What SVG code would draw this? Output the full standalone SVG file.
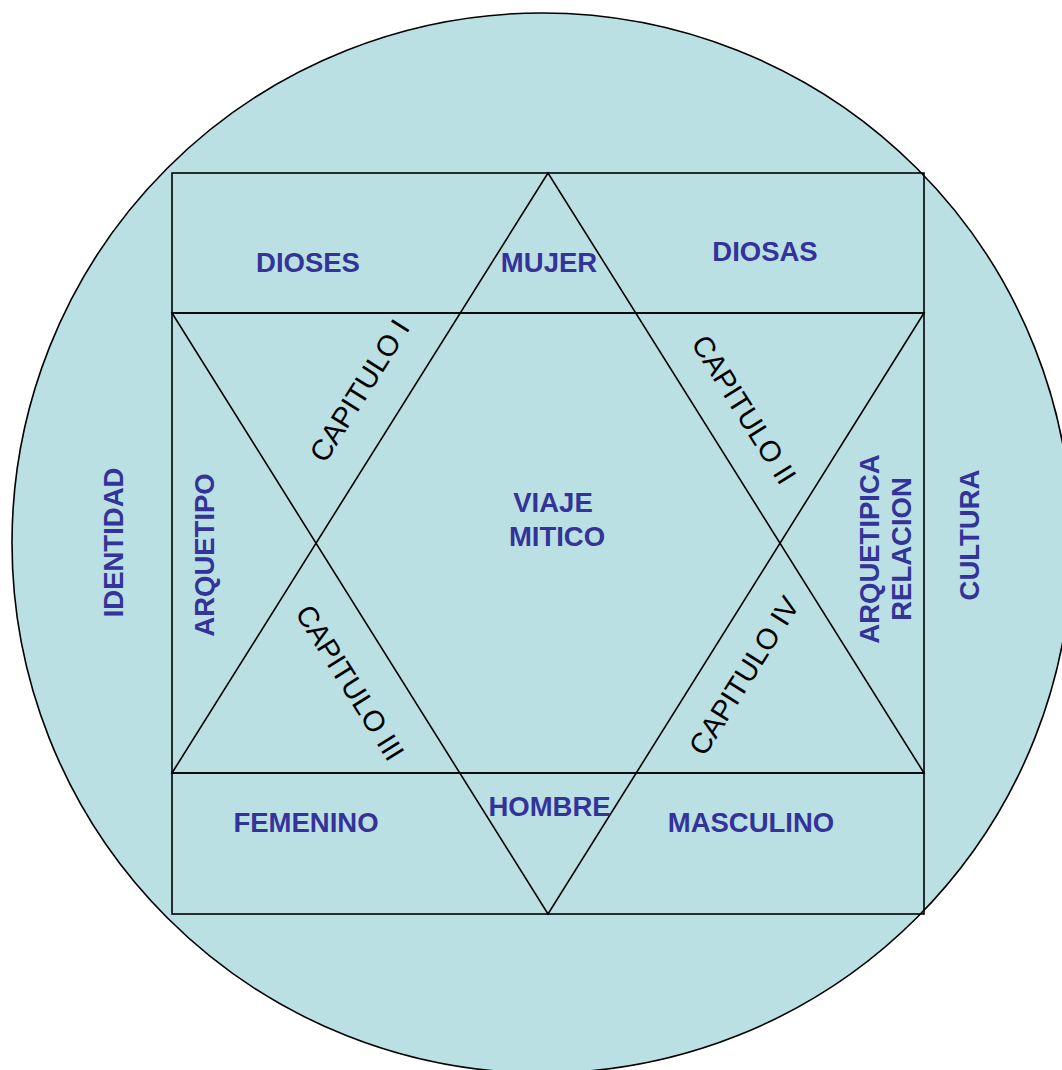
<svg xmlns="http://www.w3.org/2000/svg" width="1062" height="1070" viewBox="0 0 1062 1070">
<style>
.ln{fill:none;stroke:#000;stroke-width:1.6}
.b{font-family:"Liberation Sans",Arial,sans-serif;font-weight:bold;font-size:27.5px;fill:#333399;text-anchor:middle}
.c{font-family:"Liberation Sans",Arial,sans-serif;font-size:29px;fill:#000;text-anchor:middle}
</style>
<rect width="1062" height="1070" fill="#fff"/>
<g id="circle"><circle cx="542" cy="543" r="530" fill="#BBE0E3" stroke="#000" stroke-width="1.6"/></g>
<g id="connectors">
<rect class="ln" x="172" y="173" width="752" height="741"/>
<line class="ln" x1="172" y1="313" x2="924" y2="313"/>
<line class="ln" x1="172" y1="773" x2="924" y2="773"/>
<polygon class="ln" points="548,173 172,773 924,773"/>
<polygon class="ln" points="172,313 924,313 548,914"/>
</g>
<g id="dioses"><text class="b" x="308" y="272">DIOSES</text></g>
<g id="mujer"><text class="b" x="549" y="272">MUJER</text></g>
<g id="diosas"><text class="b" x="765" y="261">DIOSAS</text></g>
<g id="femenino"><text class="b" x="306" y="832">FEMENINO</text></g>
<g id="hombre"><text class="b" x="549.5" y="816">HOMBRE</text></g>
<g id="masculino"><text class="b" x="751" y="832">MASCULINO</text></g>
<g id="viaje"><text class="b" x="553" y="512">VIAJE</text><text class="b" x="557" y="546">MITICO</text></g>
<g id="identidad"><text class="b" transform="translate(123,542.5) rotate(-90)">IDENTIDAD</text></g>
<g id="arquetipo"><text class="b" transform="translate(214,555) rotate(-90)">ARQUETIPO</text></g>
<g id="cultura"><text class="b" transform="translate(979,535) rotate(-90)">CULTURA</text></g>
<g id="relacion"><text class="b" transform="translate(879,549) rotate(-90)">ARQUETIPICA</text><text class="b" transform="translate(911,549) rotate(-90)">RELACION</text></g>
<g id="cap1"><text class="c" transform="translate(368,396) rotate(-57.9)">CAPITULO I</text></g>
<g id="cap2"><text class="c" transform="translate(735.5,415) rotate(57.9)">CAPITULO II</text></g>
<g id="cap3"><text class="c" transform="translate(341.5,688) rotate(57.9)">CAPITULO III</text></g>
<g id="cap4"><text class="c" transform="translate(752.5,681) rotate(-57.9)">CAPITULO IV</text></g>
</svg>
